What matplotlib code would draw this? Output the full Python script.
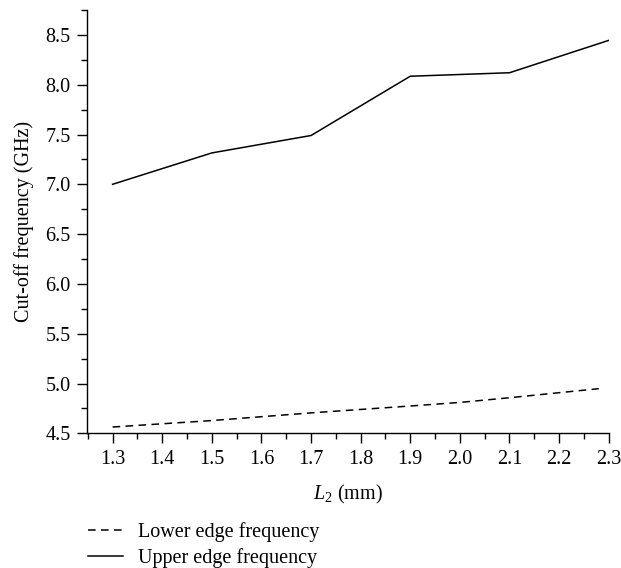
import matplotlib
matplotlib.use("Agg")
import matplotlib.pyplot as plt
from matplotlib.ticker import MultipleLocator

plt.rcParams['font.family'] = ['Liberation Serif', 'DejaVu Serif']
plt.rcParams['mathtext.fontset'] = 'custom'
plt.rcParams['mathtext.it'] = 'Liberation Serif:italic'
plt.rcParams['mathtext.rm'] = 'Liberation Serif'

upper_x = [1.3, 1.5, 1.7, 1.9, 2.1, 2.3]
upper_y = [7.00, 7.315, 7.49, 8.085, 8.12, 8.445]
lower_x = [1.3, 1.5, 1.7, 1.9, 2.0, 2.1, 2.28]
lower_y = [4.563, 4.628, 4.705, 4.774, 4.81, 4.857, 4.948]

xticks = [1.3, 1.4, 1.5, 1.6, 1.7, 1.8, 1.9, 2.0, 2.1, 2.2, 2.3]
yticks = [4.5, 5.0, 5.5, 6.0, 6.5, 7.0, 7.5, 8.0, 8.5]

FS = 14.5
W, H = 621, 568
fig = plt.figure(figsize=(W/100, H/100), dpi=100)
ax = fig.add_axes([87.3/W, (H-433.3)/H, (608.7-87.3)/W, (433.3-10)/H])

l1, = ax.plot(lower_x, lower_y, color='black', lw=1.1, ls=(0, (5, 3.5)))
l2, = ax.plot(upper_x, upper_y, color='black', lw=1.1)

ax.set_xlim(1.249, 2.3)
ax.set_ylim(4.5, 8.75)
ax.set_xticks(xticks)
ax.set_xticklabels([f"{v:.1f}" for v in xticks])
ax.set_yticks(yticks)
ax.set_yticklabels([f"{v:.1f}" for v in yticks])
ax.xaxis.set_minor_locator(MultipleLocator(0.05))
ax.yaxis.set_minor_locator(MultipleLocator(0.25))
for s in ['top', 'right']:
    ax.spines[s].set_visible(False)
for s in ['left', 'bottom']:
    ax.spines[s].set_linewidth(1.0)
ax.tick_params(which='major', direction='out', length=7, width=1.0, labelsize=FS, pad=5)
ax.tick_params(which='minor', direction='out', length=4, width=1.0)

ax.set_xlabel(r'$L_2$ (mm)', fontsize=FS, labelpad=10)
ax.set_ylabel('Cut-off frequency (GHz)', fontsize=FS, labelpad=8)

fig.legend([l1, l2], ['Lower edge frequency', 'Upper edge frequency'],
           loc='upper left', bbox_to_anchor=(80/W, 1 - 514/H), frameon=False,
           fontsize=FS, handlelength=1.75, handletextpad=0.75, labelspacing=0.3,
           borderaxespad=0)

fig.savefig('out.png', dpi=100)
